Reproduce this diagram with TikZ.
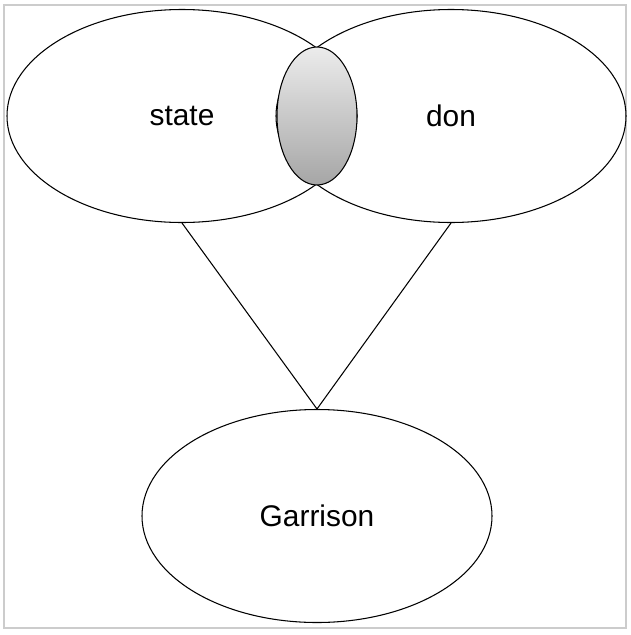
\documentclass[tikz,border=0pt]{standalone}
\usepackage{fontspec}
\setmainfont{Liberation Sans}
\usetikzlibrary{shapes.geometric}
\begin{document}
\begin{tikzpicture}[
  bigset/.style={draw, ellipse, line width=0.6pt, inner sep=0pt,
    minimum width=7cm, minimum height=4.26cm, font=\fontsize{17}{20}\selectfont},
  lens/.style={draw, ellipse, line width=0.6pt, inner sep=0pt,
    minimum width=1.6cm, minimum height=2.76cm, top color=gray!15, bottom color=gray!70},
  link/.style={line width=0.6pt}
]
% Set the frame (630 x 635 px, 50 px per cm)
\useasboundingbox (0,0) rectangle (12.6,-12.7);
\draw[gray!40, line width=1pt] (0.08,-0.1) rectangle (12.52,-12.56);

% The two sets and their overlap
\node[bigset] (state) at (3.64,-2.32) {state};
\node[bigset] (don) at (9.02,-2.32) {don};
\node[lens] (both) at (6.34,-2.32) {};

% The lower set
\node[bigset] (garrison) at (6.34,-10.32) {Garrison};

% Connect the sets
\draw[link] (state.south) -- (garrison.north);
\draw[link] (don.south) -- (garrison.north);
\end{tikzpicture}
\end{document}
